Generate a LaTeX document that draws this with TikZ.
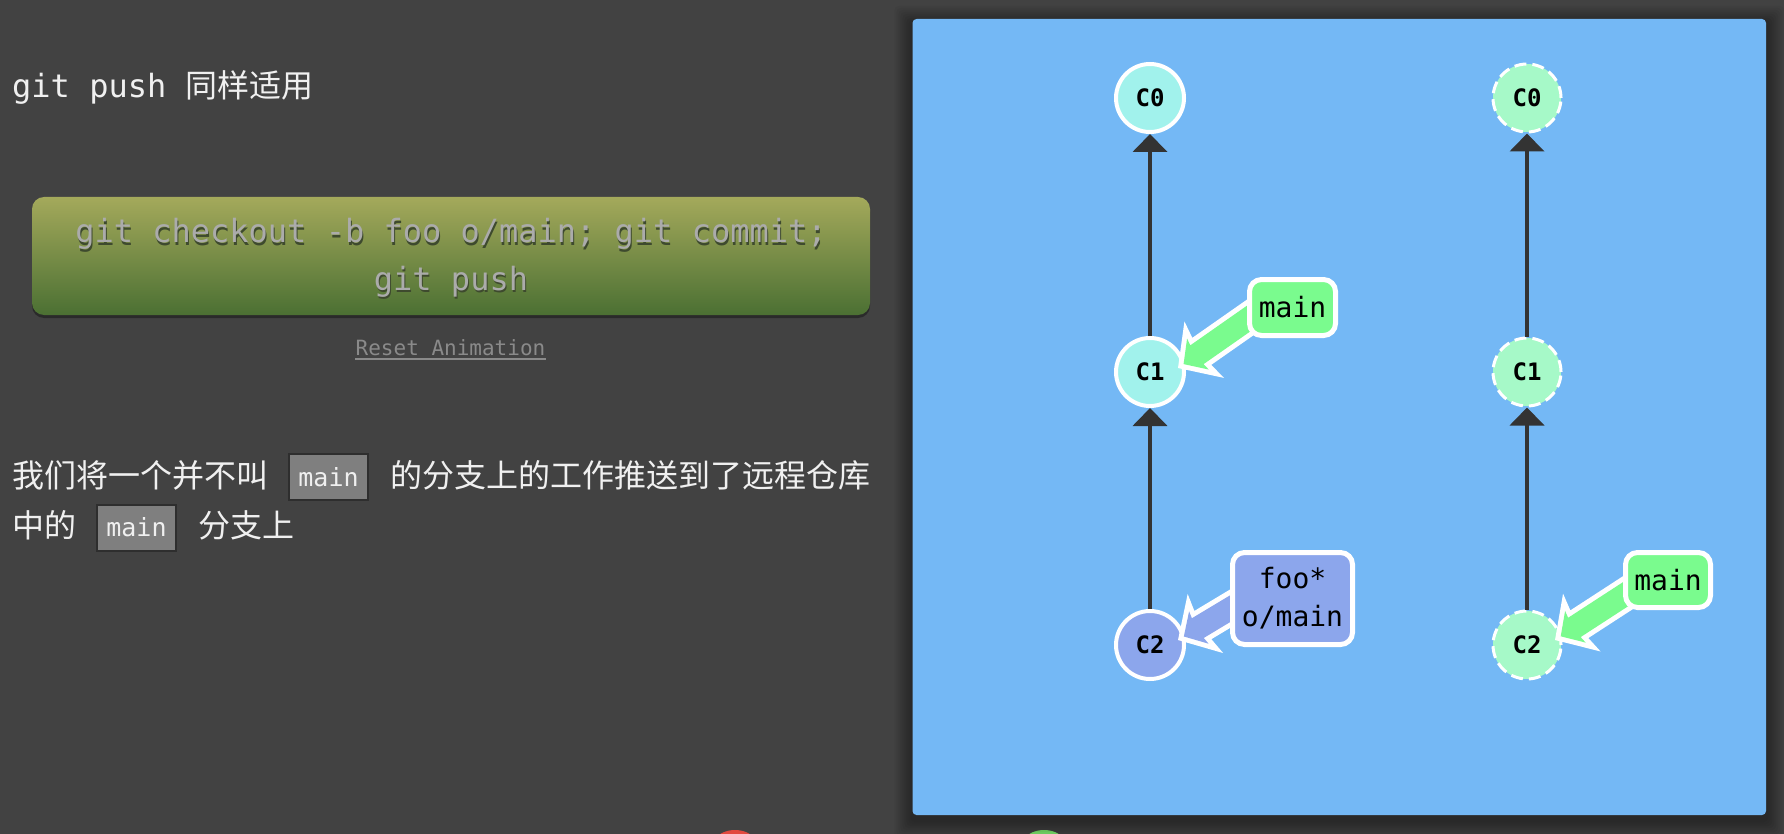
\documentclass[tikz,border=0pt]{standalone}
\usepackage{fontspec}
\setmainfont{DejaVu Sans Mono}
\setmonofont{DejaVu Sans Mono}
\newfontfamily\cjk{Noto Sans CJK SC}
\usetikzlibrary{arrows.meta,calc}

\definecolor{bg}{HTML}{424242}
\definecolor{panel}{HTML}{74B8F5}
\definecolor{cyanc}{HTML}{A1F2EC}
\definecolor{mint}{HTML}{A6F9C8}
\definecolor{peri}{HTML}{8CA6EC}
\definecolor{brgreen}{HTML}{7AFB8E}
\definecolor{edgec}{HTML}{333333}
\definecolor{btntop}{HTML}{A4A95B}
\definecolor{btnbot}{HTML}{4B7033}
\definecolor{btntext}{HTML}{ABABAB}
\definecolor{btnshadow}{HTML}{3E4A2E}
\definecolor{inlinebox}{HTML}{7F7F7F}
\definecolor{inlineborder}{HTML}{2E2E2E}
\definecolor{lighttext}{HTML}{F0F0F0}
\definecolor{resetgray}{HTML}{8A8A8A}
\definecolor{dotred}{HTML}{E2493F}
\definecolor{dotgreen}{HTML}{7EE86E}

\newcommand{\fatarrow}[3]{%
  \begin{scope}[shift={(#1)}, rotate=#2]
    \fill[white] (0,0) -- (32,34.5) -- (29,16.5) -- (115,16.5) -- (115,-16.5) -- (29,-16.5) -- (32,-34.5) -- cycle;
    \fill[#3] (6.8,0) -- (24.3,18.9) -- (23.1,11.5) -- (115,11.5) -- (115,-11.5) -- (23.1,-11.5) -- (24.3,-18.9) -- cycle;
  \end{scope}}

\begin{document}
\begin{tikzpicture}[x=1pt,y=-1pt,
  txt/.style={inner sep=0pt, text=lighttext, font=\fontsize{32}{38}\selectfont},
  inl/.style={draw=inlineborder, line width=2pt, fill=inlinebox, minimum width=79pt, minimum height=46pt, inner sep=0pt, text=lighttext, font=\fontsize{25}{28}\selectfont},
  btn/.style={inner sep=0pt, font=\fontsize{32}{38}\selectfont},
  commit/.style={circle, minimum size=68pt, inner sep=0pt, line width=4pt, draw=white, font=\fontsize{24}{26}\selectfont\bfseries},
  remote/.style={circle, minimum size=68pt, inner sep=0pt, line width=3pt, draw=white, dash pattern=on 12pt off 6pt, fill=mint, font=\fontsize{24}{26}\selectfont\bfseries},
  edge/.style={draw=edgec, line width=4pt, -{Triangle[width=34pt,length=18pt]}},
  lbl/.style={rounded corners=12pt, draw=white, line width=5pt, inner sep=0pt, font=\fontsize{28}{38}\selectfont, align=center}
]
\useasboundingbox (0,0) rectangle (1784,834);
\clip (0,0) rectangle (1784,834);
\fill[bg] (0,0) rectangle (1784,834);

% bottom dots
\fill[dotred] (735,860) circle (30);
\fill[dotgreen] (1044,860) circle (30);

% panel shadow and panel
\foreach \s in {2,4,...,18} {
  \fill[black, opacity=0.045, rounded corners=4pt] (912.5-\s,19-\s+5) rectangle (1766+\s,815+\s+5);
}
\fill[panel, rounded corners=4pt] (912.5,19) rectangle (1766,815);

% title
\node[txt, anchor=base west] (title) at (12,98) {git push {\cjk 同样适用}};

% button
\fill[black, opacity=0.35, rounded corners=12pt] (32,200) rectangle (870,318);
\shade[top color=btntop, bottom color=btnbot, rounded corners=12pt] (32,197) rectangle (870,315);
\node[btn, anchor=base, text=btnshadow] at (452,245) {git checkout -b foo o/main; git commit;};
\node[btn, anchor=base, text=btnshadow] at (452,292) {git push};
\node[btn, anchor=base, text=btntext] (cmd1) at (451,243) {git checkout -b foo o/main; git commit;};
\node[btn, anchor=base, text=btntext] (cmd2) at (451,290) {git push};

% reset animation
\node[inner sep=0pt, anchor=base, text=resetgray, font=\fontsize{21}{24}\selectfont] (reset) at (450.5,355) {Reset Animation};
\draw[resetgray, line width=1.5pt] ($(reset.base west)+(0,4)$) -- ($(reset.base east)+(0,4)$);

% paragraph
\node[txt, anchor=base west] (p1a) at (12,487) {\cjk 我们将一个并不叫};
\node[inl] (m1) at (328.5,477) {main};
\node[txt, anchor=base west] (p1b) at (390,487) {\cjk 的分支上的工作推送到了远程仓库};
\node[txt, anchor=base west] (p2a) at (12,537) {\cjk 中的};
\node[inl] (m2) at (136.5,527.5) {main};
\node[txt, anchor=base west] (p2b) at (198,537) {\cjk 分支上};

% local commits
\node[commit, fill=cyanc] (L0) at (1150,98) {C0};
\node[commit, fill=cyanc] (L1) at (1150,372) {C1};
\node[commit, fill=peri] (L2) at (1150,645) {C2};
% remote commits
\node[remote] (R0) at (1527,98) {C0};
\node[remote] (R1) at (1527,372) {C1};
\node[remote] (R2) at (1527,645) {C2};

% edges
\draw[edge] (L1) -- (L0);
\draw[edge] (L2) -- (L1);
\draw[edge] (R1) -- (R0);
\draw[edge] (R2) -- (R1);

% branch arrows
\coordinate (t1) at ($(L1.center)+(28,-4)$);
\coordinate (t2) at ($(L2.center)+(28,-5)$);
\coordinate (t3) at ($(R2.center)+(28,-5)$);
\fatarrow{t1}{35}{brgreen}
\fatarrow{t2}{31}{peri}
\fatarrow{t3}{33}{brgreen}

% branch labels
\node[lbl, fill=brgreen, minimum width=86pt, minimum height=56pt] (bm1) at (1292.5,307.5) {main};
\node[lbl, fill=peri, minimum width=120pt, minimum height=92pt] (bfoo) at (1292.5,598.5) {foo*\\o/main};
\node[lbl, fill=brgreen, minimum width=85pt, minimum height=55pt] (bm2) at (1668,580) {main};
\end{tikzpicture}
\end{document}
